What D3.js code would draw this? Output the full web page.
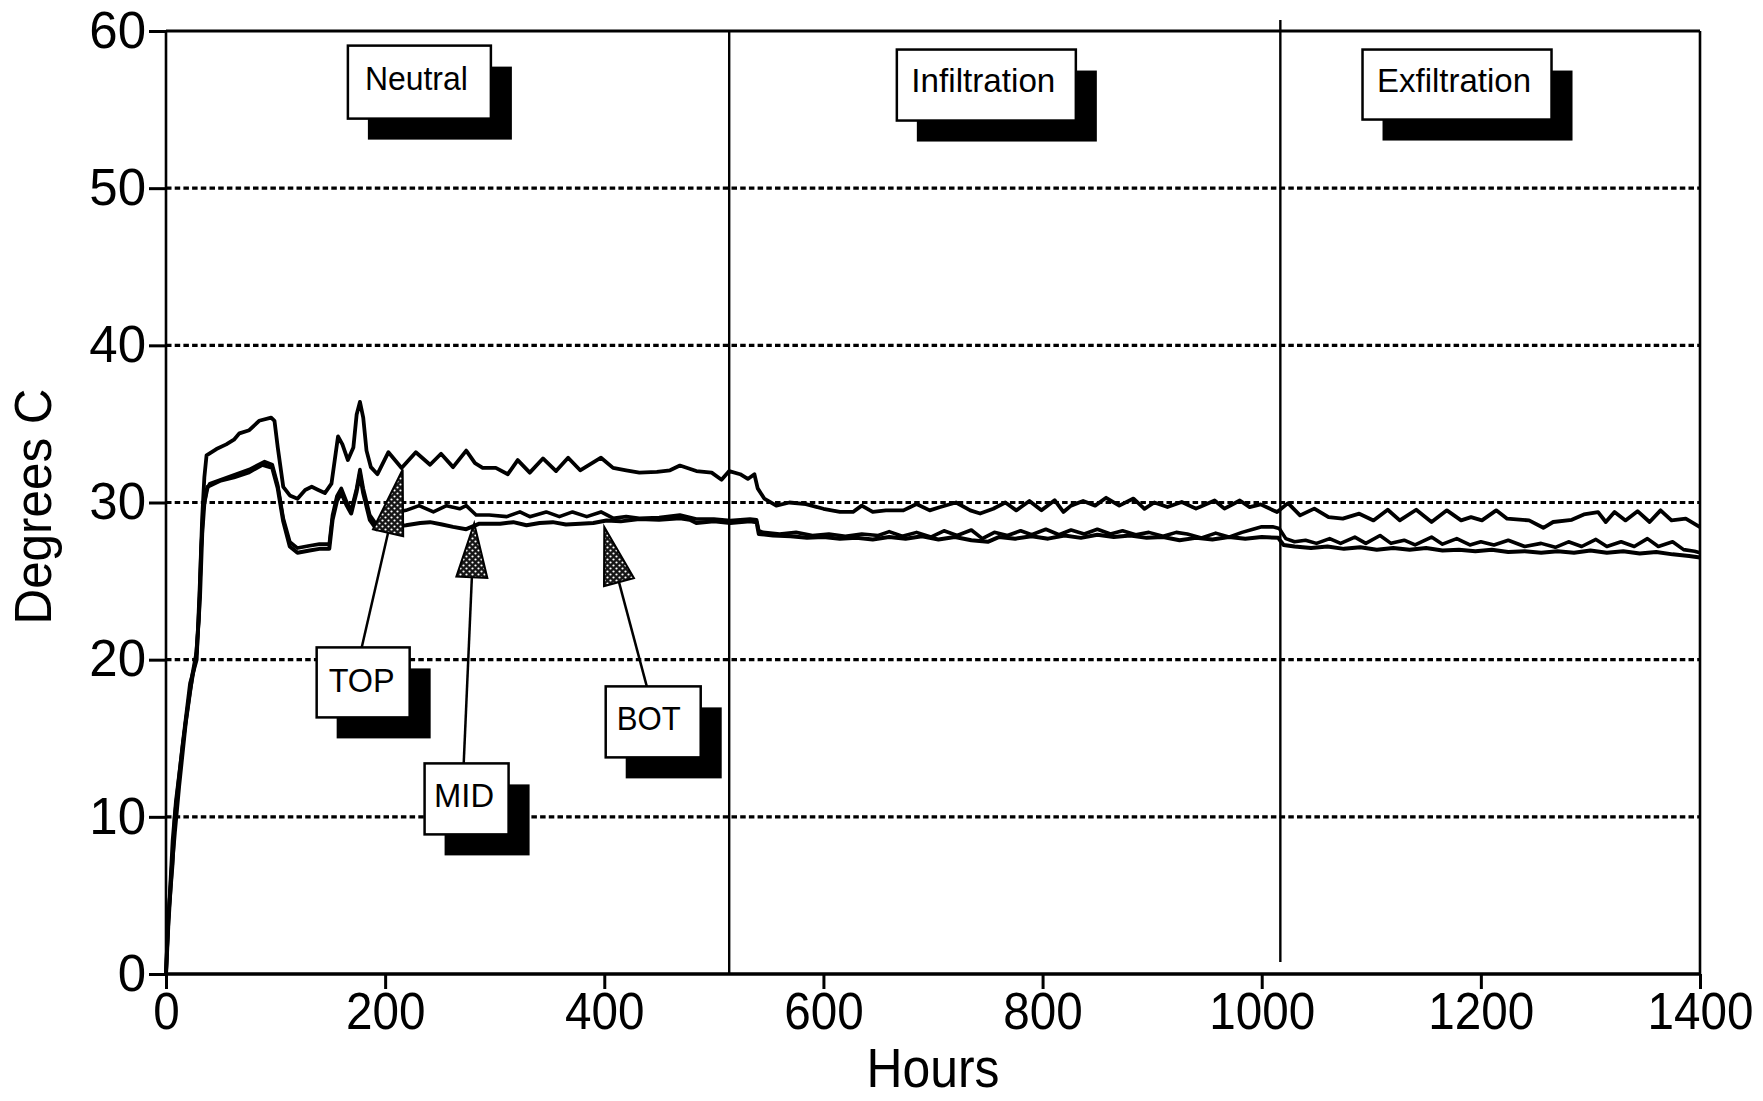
<!DOCTYPE html>
<html><head><meta charset="utf-8">
<script src="https://cdn.jsdelivr.net/npm/d3@7"></script>
<style>
html,body{margin:0;padding:0;background:#fff;}
svg{display:block;}
text{font-family:"Liberation Sans",Arial,Helvetica,sans-serif;fill:#000;}
</style></head><body>
<svg id="chart" width="1763" height="1101"></svg>
<script>
// ---------- data ----------
const xTicks=[0,200,400,600,800,1000,1200,1400];
const yTicks=[0,10,20,30,40,50,60];
const gridValues=[10,20,30,40,50];
const phaseBoundaries=[514,1017];
const phaseLabels=["Neutral","Infiltration","Exfiltration"];
const seriesNames=["TOP","MID","BOT"];
const xTitle="Hours";
const yTitle="Degrees C";

// [hours, degrees C]
const topSeries=[[0,0],[2,3.5],[6,7],[8,10],[15,14.5],[22,18.5],[28,20],[31,25],[33,29],[35,31.6],[37,33.0],[46,33.4],[55,33.7],[62,34.0],[67,34.4],[76,34.6],[85,35.2],[96,35.4],[99,35.2],[102,33.5],[107,31.0],[113,30.45],[120,30.24],[127,30.8],[133,31.0],[139,30.8],[145,30.6],[151,31.2],[157,34.2],[161,33.7],[166,32.7],[171,33.5],[174,35.6],[177,36.4],[180,35.4],[183,33.3],[187,32.25],[193,31.8],[203,33.2],[215,32.2],[228,33.2],[241,32.4],[251,33.1],[262,32.25],[274,33.3],[282,32.5],[289,32.2],[301,32.2],[312,31.8],[321,32.7],[332,31.9],[344,32.8],[356,32.0],[367,32.85],[378,32.05],[397,32.85],[408,32.2],[420,32.05],[432,31.9],[448,31.95],[460,32.05],[469,32.35],[484,32.0],[498,31.9],[507,31.45],[514,32.0],[524,31.8],[531,31.5],[537,31.8],[540,30.9],[546,30.25],[557,29.8],[569,30.0],[584,29.9],[600,29.6],[615,29.4],[627,29.4],[635,29.8],[645,29.4],[657,29.5],[673,29.5],[685,29.9],[697,29.5],[706,29.7],[721,30.0],[734,29.5],[743,29.3],[755,29.6],[766,30.0],[776,29.5],[788,30.1],[799,29.5],[811,30.15],[819,29.4],[826,29.8],[837,30.1],[848,29.8],[858,30.3],[870,29.8],[883,30.25],[893,29.6],[902,30.0],[914,29.71],[927,30.03],[940,29.61],[957,30.13],[966,29.61],[980,30.13],[989,29.71],[999,29.88],[1014,29.39],[1024,29.96],[1035,29.18],[1048,29.61],[1061,29.07],[1074,28.97],[1089,29.29],[1102,28.86],[1115,29.54],[1126,28.86],[1141,29.54],[1155,28.76],[1169,29.5],[1182,28.86],[1191,29.07],[1201,28.86],[1214,29.5],[1224,28.97],[1244,28.86],[1257,28.39],[1266,28.76],[1283,28.9],[1294,29.24],[1307,29.39],[1314,28.76],[1322,29.39],[1332,28.86],[1343,29.45],[1354,28.76],[1364,29.5],[1374,28.86],[1387,28.97],[1400,28.44]];

const midSeries=[[0,0],[3,4.5],[6,8.5],[9,11],[16,15],[22,18],[27,20],[30,22.5],[32,27],[34,29.5],[37,30.8],[40,31.2],[52,31.5],[64,31.8],[76,32.1],[90,32.6],[97,32.4],[102,31.1],[107,29.0],[113,27.5],[120,27.1],[131,27.25],[140,27.35],[149,27.35],[152,29.2],[156,30.4],[160,30.9],[165,30.0],[169,29.5],[174,30.9],[177,32.1],[180,30.9],[186,29.2],[192,28.6],[198,28.7],[206,29.3],[219,29.5],[231,29.8],[244,29.4],[256,29.8],[268,29.6],[274,29.8],[283,29.2],[295,29.2],[311,29.1],[323,29.4],[332,29.1],[347,29.4],[359,29.1],[371,29.4],[384,29.1],[397,29.4],[408,29.0],[420,29.1],[432,29.0],[450,29.05],[469,29.2],[484,28.95],[500,28.95],[515,28.85],[533,28.95],[539,28.9],[541,28.2],[545,28.1],[560,28.0],[575,28.1],[590,27.9],[605,28.0],[620,27.85],[635,28.0],[650,27.9],[660,28.15],[672,27.85],[685,28.1],[698,27.8],[710,28.2],[722,27.9],[735,28.25],[745,27.7],[756,28.1],[768,27.9],[780,28.2],[790,27.95],[803,28.3],[815,27.95],[826,28.25],[838,28.0],[850,28.3],[862,28.0],[873,28.2],[885,27.95],[897,28.1],[910,27.85],[922,28.1],[932,28.0],[945,27.75],[958,28.05],[970,27.8],[982,28.1],[992,28.3],[1000,28.45],[1010,28.45],[1016,28.35],[1022,27.7],[1030,27.5],[1040,27.6],[1050,27.4],[1062,27.7],[1072,27.4],[1085,27.8],[1095,27.4],[1108,27.9],[1118,27.4],[1130,27.6],[1140,27.3],[1155,27.8],[1165,27.35],[1178,27.7],[1190,27.3],[1200,27.5],[1212,27.3],[1225,27.6],[1240,27.2],[1255,27.4],[1268,27.15],[1280,27.5],[1292,27.2],[1305,27.65],[1315,27.2],[1328,27.5],[1340,27.2],[1352,27.7],[1362,27.2],[1375,27.5],[1385,27.0],[1395,26.9],[1400,26.8]];

const botSeries=[[0,0],[2,3],[5,6.5],[8,9],[12,12],[18,16],[24,19],[28,20.5],[31,24],[33,28],[35,30],[38,31.0],[50,31.4],[62,31.6],[75,31.9],[88,32.4],[97,32.2],[102,30.9],[107,28.8],[113,27.2],[120,26.8],[131,26.95],[140,27.05],[149,27.05],[152,28.9],[156,30.1],[160,30.6],[165,29.8],[169,29.3],[174,30.7],[177,31.8],[180,30.6],[186,28.9],[192,28.3],[200,28.4],[219,28.55],[232,28.7],[241,28.75],[252,28.6],[262,28.45],[274,28.3],[286,28.65],[305,28.65],[317,28.75],[329,28.55],[341,28.7],[353,28.75],[365,28.6],[378,28.65],[390,28.7],[402,28.85],[415,28.8],[432,28.95],[450,28.9],[469,29.0],[478,28.9],[484,28.7],[500,28.8],[515,28.7],[533,28.8],[539,28.75],[541,28.0],[554,27.9],[570,27.85],[585,27.75],[600,27.8],[615,27.7],[630,27.75],[645,27.65],[660,27.8],[675,27.7],[690,27.85],[705,27.65],[720,27.8],[735,27.6],[750,27.5],[760,27.8],[775,27.7],[790,27.85],[805,27.7],[820,27.9],[835,27.75],[850,27.95],[865,27.8],[880,27.9],[895,27.75],[910,27.8],[925,27.6],[940,27.75],[955,27.65],[970,27.8],[985,27.7],[1000,27.8],[1015,27.75],[1020,27.3],[1030,27.2],[1045,27.1],[1060,27.2],[1075,27.05],[1090,27.15],[1105,27.0],[1120,27.1],[1135,27.0],[1150,27.1],[1165,26.95],[1180,27.0],[1195,26.9],[1210,27.0],[1225,26.85],[1240,26.9],[1255,26.8],[1270,26.9],[1285,26.8],[1300,26.95],[1315,26.8],[1330,26.9],[1345,26.75],[1360,26.85],[1375,26.7],[1390,26.6],[1400,26.5]];

// ---------- layout (annotation anchors in data units) ----------
const phaseBoxAnchors=[[166,59.07],[667,58.82],[1092,58.82]];
const phaseBoxSizes=[[143,73,17,44,103],[179,71,14.5,42,144],[189,70,14.5,42,154]];
const seriesBoxAnchors=[[137.5,20.78],[236,13.4],[401.3,18.3]];
const seriesBoxSizes=[[93,70,12,45,66],[84,71,9.5,44,60],[95,71,11,44,64]];
const arrowStart=[[178.6,20.78],[271.7,13.4],[438.8,18.3]];
const arrowTip=[[216,32.1],[281.3,28.67],[400,28.44]];
const arrowLen=[65,54,57];

// ---------- chart ----------
const svg=d3.select("#chart");
const x=d3.scaleLinear().domain([0,1400]).range([166,1700]);
const y=d3.scaleLinear().domain([0,60]).range([974,31]);

const defs=svg.append("defs");
const pat=defs.append("pattern").attr("id","stip").attr("width",6).attr("height",6).attr("patternUnits","userSpaceOnUse");
pat.append("rect").attr("width",6).attr("height",6).attr("fill","#161616");
pat.append("circle").attr("cx",1.5).attr("cy",1.5).attr("r",1.1).attr("fill","#fff");
pat.append("circle").attr("cx",4.5).attr("cy",4.5).attr("r",1.1).attr("fill","#fff");

// gridlines
svg.append("g").selectAll("line").data(gridValues).join("line")
  .attr("x1",x(0)).attr("x2",x(1400)).attr("y1",d=>y(d)).attr("y2",d=>y(d))
  .attr("stroke","#000").attr("stroke-width",3.2).attr("stroke-dasharray","5.5,3.2");

// phase boundaries
svg.append("g").selectAll("line").data(phaseBoundaries).join("line")
  .attr("x1",d=>x(d)).attr("x2",d=>x(d))
  .attr("y1",(d,i)=>i===1?y(60)-11:y(60)).attr("y2",(d,i)=>i===1?y(0)-12:y(0))
  .attr("stroke","#000").attr("stroke-width",2.4);

// series
const line=d3.line().x(d=>x(d[0])).y(d=>y(d[1]));
const seriesData=[topSeries,midSeries,botSeries];
const seriesWidths=[3.8,3.6,4];
svg.append("g").selectAll("path").data(seriesData).join("path")
  .attr("d",line).attr("fill","none").attr("stroke","#000")
  .attr("stroke-width",(d,i)=>seriesWidths[i]).attr("stroke-linejoin","round");

// frame
const frame=svg.append("g").attr("stroke","#000");
frame.append("line").attr("x1",x(0)).attr("x2",x(1400)).attr("y1",y(60)).attr("y2",y(60)).attr("stroke-width",3);
frame.append("line").attr("x1",x(1400)).attr("x2",x(1400)).attr("y1",y(60)).attr("y2",y(0)).attr("stroke-width",2.6);
frame.append("line").attr("x1",x(0)).attr("x2",x(0)).attr("y1",y(60)).attr("y2",y(0)).attr("stroke-width",2.6);
frame.append("line").attr("x1",x(0)-1).attr("x2",x(1400)+1).attr("y1",y(0)).attr("y2",y(0)).attr("stroke-width",3.5);

// axes
const gx=svg.append("g").attr("transform",`translate(0,${y(0)})`)
  .call(d3.axisBottom(x).tickValues(xTicks).tickFormat(d3.format("d")).tickSize(15).tickPadding(3).tickSizeOuter(0));
gx.attr("font-family",null).attr("font-size",null);
gx.select(".domain").remove();
gx.selectAll(".tick line").attr("stroke","#000").attr("stroke-width",3);
gx.selectAll(".tick text").attr("font-size",52)
  .attr("textLength",d=>String(d).length*26.5).attr("lengthAdjust","spacingAndGlyphs");

const gy=svg.append("g").attr("transform",`translate(${x(0)},0)`)
  .call(d3.axisLeft(y).tickValues(yTicks).tickFormat(d3.format("d")).tickSize(17).tickPadding(3).tickSizeOuter(0));
gy.attr("font-family",null).attr("font-size",null);
gy.select(".domain").remove();
gy.selectAll(".tick line").attr("stroke","#000").attr("stroke-width",3);
gy.selectAll(".tick text").attr("font-size",51);

// axis titles
svg.append("text").attr("x",(x(0)+x(1400))/2).attr("y",1087)
  .attr("text-anchor","middle").attr("font-size",55)
  .attr("textLength",133).attr("lengthAdjust","spacingAndGlyphs").text(xTitle);
svg.append("text").attr("transform",`translate(51,${(y(0)+y(60))/2+4}) rotate(-90)`)
  .attr("text-anchor","middle").attr("font-size",52)
  .attr("textLength",236).attr("lengthAdjust","spacingAndGlyphs").text(yTitle);

// boxed labels with drop shadows
function boxLabel(label,anchor,size){
  const bx=x(anchor[0]), by=y(anchor[1]);
  const [w,h,padX,base,tl]=size;
  const g=svg.append("g");
  g.append("rect").attr("x",bx+20).attr("y",by+21).attr("width",w+1).attr("height",h).attr("fill","#000");
  g.append("rect").attr("x",bx).attr("y",by).attr("width",w).attr("height",h)
    .attr("fill","#fff").attr("stroke","#000").attr("stroke-width",2.5);
  g.append("text").attr("x",bx+padX).attr("y",by+base).attr("font-size",34)
    .attr("textLength",tl).attr("lengthAdjust","spacingAndGlyphs").text(label);
}
phaseLabels.forEach((l,i)=>boxLabel(l,phaseBoxAnchors[i],phaseBoxSizes[i]));

// arrows
seriesNames.forEach((n,i)=>{
  const sx=x(arrowStart[i][0]), sy=y(arrowStart[i][1]);
  const tx=x(arrowTip[i][0]), ty=y(arrowTip[i][1]);
  const dx=tx-sx, dy=ty-sy, L=Math.hypot(dx,dy), ux=dx/L, uy=dy/L;
  const bxc=tx-ux*arrowLen[i], byc=ty-uy*arrowLen[i];
  const hw=15.5;
  svg.append("line").attr("x1",sx).attr("y1",sy).attr("x2",bxc).attr("y2",byc)
    .attr("stroke","#000").attr("stroke-width",2.5);
  svg.append("path").attr("d",`M${tx},${ty}L${bxc-uy*hw},${byc+ux*hw}L${bxc+uy*hw},${byc-ux*hw}Z`)
    .attr("fill","url(#stip)").attr("stroke","#000").attr("stroke-width",2);
});
seriesNames.forEach((n,i)=>boxLabel(n,seriesBoxAnchors[i],seriesBoxSizes[i]));
</script>
</body></html>
